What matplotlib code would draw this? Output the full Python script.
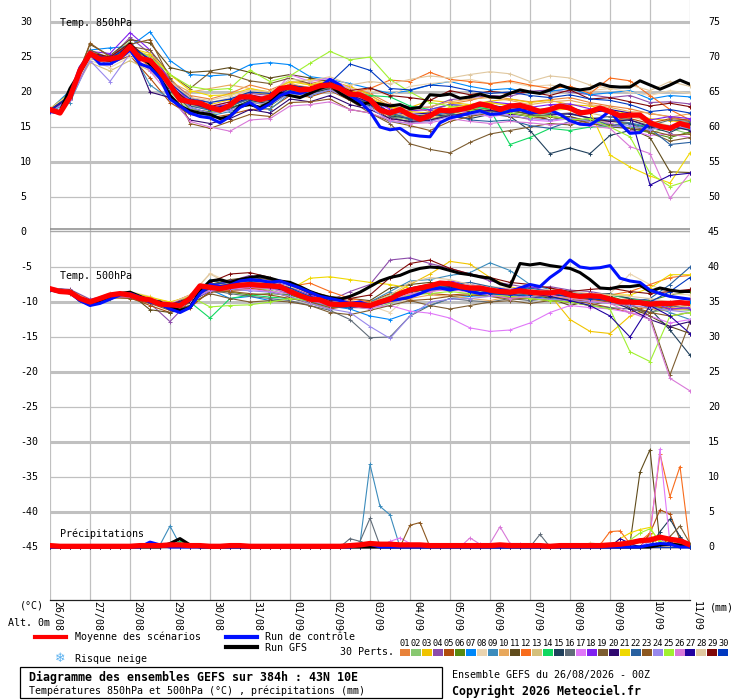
import numpy as np
import matplotlib
matplotlib.use("Agg")
import matplotlib.pyplot as plt
import matplotlib.transforms as mtransforms
from matplotlib.lines import Line2D
from matplotlib.patches import Rectangle

plt.rcParams["font.family"] = ["DejaVu Sans Mono", "DejaVu Sans"]

# ---------------------------------------------------------------- data
date_labels = ["26/08", "27/08", "28/08", "29/08", "30/08", "31/08", "01/09",
               "02/09", "03/09", "04/09", "05/09", "06/09", "07/09", "08/09",
               "09/09", "10/09", "11/09"]

pert_colors = ["#e8823a", "#88c870", "#f0c400", "#8c4caa", "#b04c0c", "#588a10",
               "#0088f8", "#ead4b0", "#3c8cbc", "#e8a85c", "#604c1c", "#f86c1c",
               "#d4c07c", "#10d860", "#20405c", "#606c78", "#e078f8", "#8020f0",
               "#7c5c30", "#300870", "#f0d800", "#2860a0", "#8c5820", "#9888ec",
               "#a0f030", "#d878d8", "#2000a0", "#e0c8a0", "#800808", "#0038c0"]

# 6-hourly series (0..384h)
t850_mean = [17.5, 17.0, 19.3, 23.1, 25.5, 24.7, 24.7, 25.0, 26.5, 24.8,
             24.5, 22.9, 21.0, 18.9, 18.6, 18.4, 17.8, 17.4, 18.1, 19.3,
             19.3, 18.9, 19.3, 20.5, 20.7, 20.3, 20.4, 20.9, 21.0, 20.5,
             19.7, 19.6, 18.9, 17.4, 17.0, 17.5, 16.7, 16.1, 16.6, 17.4,
             17.3, 17.5, 17.8, 18.3, 18.0, 17.5, 18.0, 18.1, 17.7, 17.2,
             17.5, 18.0, 17.7, 17.0, 17.2, 17.7, 17.2, 16.6, 16.7, 16.7,
             15.6, 15.1, 14.8, 15.5, 15.1]
t850_gfs = [17.5, 17.2, 20.5, 22.8, 25.3, 24.8, 24.5, 25.2, 26.8, 25.0,
            24.0, 22.0, 19.5, 18.0, 17.3, 17.0, 16.8, 16.2, 16.5, 18.0,
            18.2, 17.8, 18.5, 19.8, 19.5, 19.2, 19.8, 20.5, 21.0, 19.8,
            19.0, 18.2, 18.5, 18.3, 18.0, 18.2, 17.6, 17.8, 19.6, 19.5,
            19.7, 19.1, 19.3, 19.7, 19.3, 19.2, 19.8, 20.3, 20.0, 19.8,
            20.3, 21.0, 20.5, 20.3, 20.5, 21.2, 20.8, 20.7, 20.7, 21.6,
            21.0, 20.4, 21.0, 21.7, 21.1]
t850_ctrl = [17.2, 17.0, 19.5, 23.5, 25.5, 24.0, 24.0, 24.8, 26.0, 24.0,
             23.5, 22.0, 19.0, 18.0, 17.0, 16.5, 16.3, 15.6, 16.5, 17.8,
             18.5, 17.5, 18.3, 19.5, 20.0, 19.8, 20.3, 20.8, 21.8, 21.0,
             19.5, 18.6, 17.2, 15.0, 14.6, 14.8, 13.9, 13.7, 13.6, 15.6,
             16.3, 16.6, 17.0, 17.3, 16.8, 16.9, 17.3, 17.5, 17.0, 17.1,
             17.4, 16.8, 15.9, 15.4, 15.3, 16.2, 17.3, 15.5, 14.1, 14.2,
             15.6, 15.0, 14.8, 15.4, 15.4]

t500_mean = [-8.1, -8.5, -8.6, -9.5, -10.0, -9.5, -9.0, -8.8, -9.0, -9.5,
             -9.7, -10.3, -10.4, -10.5, -9.5, -7.7, -7.9, -8.1, -7.8, -7.6,
             -7.5, -7.6, -7.7, -7.8, -8.5, -9.1, -9.6, -9.7, -10.3, -10.4,
             -10.3, -10.4, -10.5, -10.0, -9.6, -8.8, -8.3, -8.0, -7.7, -7.3,
             -7.4, -7.8, -8.0, -8.0, -8.3, -8.5, -8.6, -8.4, -8.6, -8.7,
             -8.7, -8.5, -9.0, -9.2, -9.1, -9.2, -9.6, -10.0, -10.0, -10.1,
             -10.3, -10.2, -10.2, -10.1, -10.2]
t500_gfs = [-8.2, -8.6, -8.5, -9.8, -10.3, -9.8, -9.3, -8.8, -8.6, -9.2,
            -9.8, -10.0, -10.8, -11.2, -10.8, -8.5, -7.0, -6.8, -7.2, -6.8,
            -6.5, -6.3, -6.6, -7.0, -7.2, -7.8, -8.5, -9.0, -9.4, -9.6,
            -9.2, -8.6, -7.8, -7.0, -6.5, -6.2, -5.6, -5.2, -5.0, -5.1,
            -5.5, -5.9, -6.1, -6.4, -6.6, -7.4, -7.8, -4.5, -4.7, -4.5,
            -4.8, -5.0, -5.2, -5.8, -6.8, -8.0, -8.1, -7.8, -7.8, -7.6,
            -8.5, -8.0, -8.3, -8.5, -8.5]
t500_ctrl = [-8.3, -8.5, -8.7, -9.8, -10.5, -10.2, -9.6, -9.0, -8.8, -9.3,
             -10.0, -10.3, -11.0, -11.5, -10.8, -8.8, -7.5, -7.8, -7.6, -7.0,
             -6.8, -6.9, -7.2, -7.0, -7.5, -8.0, -8.6, -9.2, -9.5, -9.8,
             -10.2, -10.0, -10.5, -10.2, -9.8, -9.6, -9.3, -8.8, -8.2, -8.0,
             -8.3, -8.0, -8.5, -8.8, -8.6, -8.2, -8.5, -8.0, -7.5, -7.8,
             -6.5, -5.5, -4.0, -5.0, -5.2, -5.1, -4.8, -6.6, -7.0, -7.2,
             -8.3, -8.8, -9.2, -9.4, -9.6]

precip_mean = [0.2, 0.1, 0.1, 0.1, 0.1, 0.1, 0.1, 0.1, 0.1, 0.2,
               0.2, 0.2, 0.3, 0.3, 0.2, 0.2, 0.1, 0.1, 0.2, 0.2,
               0.1, 0.1, 0.1, 0.1, 0.1, 0.1, 0.1, 0.1, 0.1, 0.1,
               0.2, 0.3, 0.5, 0.4, 0.4, 0.3, 0.3, 0.3, 0.2, 0.2,
               0.2, 0.2, 0.2, 0.2, 0.2, 0.3, 0.2, 0.2, 0.2, 0.2,
               0.1, 0.2, 0.2, 0.2, 0.2, 0.2, 0.3, 0.4, 0.6, 0.9,
               1.0, 1.4, 1.1, 0.9, 0.3]
ctrl_rain_step = [10, 11, 31, 32, 60, 61, 62]
ctrl_rain_mm = [0.7, 0.3, 0.3, 0.4, 0.3, 0.5, 0.4]
gfs_rain_step = [12, 13, 14, 61, 62, 63]
gfs_rain_mm = [0.5, 1.2, 0.3, 0.3, 0.4, 0.3]

# rain of the perturbations, only the non-zero 6h steps
rain_member = [26, 2, 2, 14, 14, 9, 9, 9,
               16, 16, 16, 16, 9, 9, 9, 9,
               17, 17, 17, 23, 23,
               26, 26, 26, 26, 26, 26, 16, 28, 28,
               12, 12, 12, 12, 12, 12, 12, 12, 12,
               11, 11, 11, 11, 17, 17, 17,
               5, 5, 5, 5, 15, 15, 15, 19, 19, 19,
               21, 21, 21, 21, 21, 25, 25, 25, 25,
               27, 27, 27, 3, 3, 20, 24, 24]
rain_step = [0, 12, 13, 13, 14, 11, 12, 13,
             30, 31, 32, 33, 31, 32, 33, 34,
             34, 35, 36, 36, 37,
             42, 43, 44, 45, 46, 47, 49, 54, 55,
             55, 56, 57, 58, 59, 60, 61, 62, 63,
             58, 59, 60, 61, 60, 61, 62,
             60, 61, 62, 63, 61, 62, 63, 62, 63, 64,
             57, 58, 59, 60, 61, 58, 59, 60, 61,
             57, 58, 62, 60, 62, 62, 60, 61]
rain_mm = [0.3, 0.4, 0.6, 0.8, 0.3, 0.3, 3.0, 0.3,
           1.2, 0.8, 4.1, 0.2, 0.5, 11.8, 5.8, 4.6,
           0.8, 1.3, 0.5, 3.1, 3.5,
           1.3, 0.4, 0.5, 2.9, 0.5, 0.5, 1.8, 0.6, 0.4,
           0.3, 2.2, 2.3, 0.5, 0.8, 2.0, 13.3, 7.2, 11.5,
           0.5, 10.7, 13.9, 0.5, 1.5, 14.0, 0.5,
           2.0, 5.3, 4.7, 1.0, 2.2, 4.0, 1.5, 1.5, 3.0, 0.5,
           1.2, 2.0, 2.5, 2.8, 0.5, 1.0, 2.0, 2.6, 0.8,
           1.2, 0.5, 0.8, 1.8, 1.2, 0.6, 0.8, 1.2]

# 12-hourly perturbations, T850
t850_p01 = [17.3, 19.8, 25.0, 24.2, 26.0, 24.8, 21.5, 19.5, 19.0, 19.8, 21.0, 20.3, 21.5, 21.2, 21.8, 20.6, 19.8, 18.3, 17.9, 17.2, 18.3, 18.8, 19.5, 19.0, 18.6, 18.9, 19.2, 18.5, 18.0, 17.6, 16.9, 16.5, 15.8]
t850_p02 = [17.4, 19.0, 25.8, 25.0, 27.2, 23.6, 20.0, 17.2, 16.8, 17.5, 18.8, 18.2, 20.2, 19.7, 20.8, 19.0, 18.2, 16.5, 16.0, 16.2, 16.8, 17.5, 17.9, 17.2, 17.0, 16.5, 16.2, 16.0, 15.3, 15.6, 14.2, 14.8, 14.0]
t850_p03 = [17.6, 20.0, 25.2, 24.5, 26.2, 25.2, 22.0, 19.0, 18.2, 18.9, 20.0, 19.6, 21.2, 21.8, 21.5, 20.8, 19.6, 17.8, 17.8, 18.8, 18.5, 18.2, 18.7, 19.0, 18.5, 18.8, 18.2, 18.0, 17.5, 16.8, 16.2, 15.9, 15.6]
t850_p04 = [17.2, 19.5, 25.5, 24.8, 27.8, 25.5, 21.8, 19.2, 18.5, 19.0, 19.8, 19.5, 21.0, 20.6, 21.4, 19.5, 18.6, 18.2, 17.9, 17.8, 18.9, 19.2, 19.5, 19.4, 20.1, 20.3, 20.0, 19.6, 19.2, 19.5, 18.5, 18.6, 18.3]
t850_p05 = [17.5, 18.8, 25.3, 24.0, 25.2, 22.0, 18.5, 16.8, 16.3, 16.8, 17.5, 17.6, 19.5, 19.3, 20.2, 18.8, 18.0, 16.2, 15.8, 15.9, 16.6, 17.2, 17.5, 17.0, 16.6, 16.0, 16.5, 15.8, 16.0, 16.2, 15.5, 16.2, 16.0]
t850_p06 = [17.3, 19.2, 25.6, 24.3, 26.8, 24.0, 20.5, 17.5, 17.2, 17.8, 18.6, 18.0, 20.0, 19.8, 20.5, 19.2, 18.4, 16.8, 16.2, 16.0, 16.9, 17.6, 17.2, 17.3, 16.8, 17.0, 16.4, 15.8, 15.5, 14.8, 14.2, 13.5, 14.3]
t850_p07 = [17.5, 20.2, 26.0, 26.3, 26.5, 28.6, 24.5, 22.5, 22.3, 22.5, 23.9, 24.2, 23.9, 22.2, 21.8, 21.2, 20.5, 19.8, 20.2, 21.0, 21.5, 20.8, 20.3, 20.5, 19.8, 20.1, 20.5, 19.6, 19.9, 20.2, 19.0, 19.5, 19.3]
t850_p08 = [17.6, 19.5, 24.5, 23.5, 25.0, 24.2, 20.8, 18.8, 18.5, 19.2, 20.2, 19.8, 21.5, 21.0, 21.8, 20.5, 20.2, 19.5, 20.8, 21.2, 21.5, 21.8, 21.2, 21.4, 20.8, 21.0, 20.6, 20.2, 20.5, 20.0, 19.5, 20.2, 19.8]
t850_p09 = [17.2, 18.5, 24.8, 24.0, 26.2, 21.0, 19.0, 17.0, 16.6, 17.2, 18.2, 17.5, 19.8, 19.5, 20.3, 19.0, 18.0, 17.2, 16.0, 16.5, 17.3, 17.8, 18.2, 17.6, 17.2, 17.0, 16.8, 16.3, 16.0, 15.6, 15.0, 14.6, 14.9]
t850_p10 = [17.4, 19.6, 25.4, 24.6, 26.4, 25.0, 21.5, 20.0, 20.5, 21.0, 20.5, 19.8, 21.2, 20.6, 21.6, 20.2, 19.5, 18.0, 17.5, 17.9, 18.6, 19.0, 19.2, 18.8, 18.2, 18.6, 18.8, 18.2, 17.8, 17.2, 17.0, 16.4, 16.9]
t850_p11 = [17.5, 19.8, 26.8, 25.2, 27.5, 27.0, 23.5, 22.8, 23.0, 23.5, 22.8, 22.0, 22.5, 22.0, 21.5, 19.0, 18.5, 17.0, 16.5, 16.8, 17.5, 17.2, 17.8, 17.5, 16.8, 16.0, 16.5, 15.5, 15.0, 14.8, 13.5, 8.6, 8.5]
t850_p12 = [17.3, 19.0, 25.6, 24.0, 26.0, 23.5, 20.2, 18.0, 17.6, 18.3, 19.5, 18.6, 20.3, 20.1, 20.6, 19.8, 20.5, 21.7, 21.5, 22.8, 21.8, 21.5, 21.2, 21.6, 21.0, 20.5, 20.8, 19.8, 22.0, 21.6, 19.5, 17.5, 16.0]
t850_p13 = [17.6, 19.4, 24.2, 23.0, 24.5, 23.0, 20.5, 18.2, 17.5, 18.0, 19.0, 18.7, 20.5, 20.0, 20.8, 19.6, 18.6, 17.0, 16.5, 16.2, 17.0, 17.6, 18.4, 18.2, 17.8, 17.3, 17.6, 17.0, 16.4, 16.5, 15.8, 15.2, 15.4]
t850_p14 = [17.4, 19.2, 25.2, 24.4, 26.6, 24.0, 20.6, 18.5, 17.4, 17.9, 19.2, 18.8, 20.5, 20.3, 21.0, 20.0, 19.5, 19.3, 18.0, 17.5, 18.2, 18.0, 17.5, 12.5, 13.5, 14.8, 14.5, 15.0, 15.2, 14.8, 15.5, 15.0, 14.6]
t850_p15 = [17.3, 19.0, 25.0, 24.2, 26.3, 23.8, 20.2, 17.8, 17.0, 17.6, 18.8, 18.3, 20.0, 19.8, 20.5, 19.4, 18.2, 16.6, 16.2, 16.8, 16.5, 16.2, 16.8, 16.5, 14.5, 11.2, 12.0, 11.2, 13.8, 14.5, 15.0, 14.2, 15.6]
t850_p16 = [17.5, 19.3, 25.4, 24.5, 26.0, 24.2, 20.8, 18.3, 17.5, 18.2, 19.0, 18.5, 20.3, 20.1, 20.6, 19.3, 18.5, 16.5, 15.6, 16.0, 16.8, 16.6, 17.2, 17.0, 16.5, 16.8, 17.0, 16.2, 16.5, 16.0, 15.2, 16.0, 15.8]
t850_p17 = [17.4, 19.6, 25.5, 24.8, 26.8, 24.8, 21.2, 18.8, 18.0, 18.6, 19.6, 19.2, 22.5, 21.5, 22.0, 20.4, 19.0, 17.5, 17.2, 17.0, 17.6, 17.0, 16.5, 16.8, 16.0, 15.8, 16.2, 15.5, 15.6, 14.5, 13.8, 14.0, 13.5]
t850_p18 = [17.3, 19.2, 25.8, 25.5, 28.5, 26.0, 21.5, 18.6, 17.8, 18.3, 19.5, 19.0, 20.8, 20.5, 21.2, 20.0, 19.0, 17.6, 17.3, 17.5, 18.2, 18.0, 18.6, 18.3, 17.8, 18.2, 18.3, 17.6, 17.0, 16.8, 16.0, 16.5, 16.2]
t850_p19 = [17.5, 19.5, 26.0, 24.8, 26.5, 26.0, 22.5, 20.5, 22.8, 22.5, 21.6, 21.2, 22.0, 21.2, 20.5, 18.8, 17.0, 15.5, 12.6, 11.8, 11.3, 12.8, 14.0, 14.5, 15.0, 15.5, 15.3, 16.0, 15.8, 15.5, 14.2, 13.0, 13.5]
t850_p20 = [17.3, 19.0, 25.0, 24.0, 27.0, 20.0, 19.2, 16.0, 15.5, 16.2, 17.5, 17.0, 19.0, 18.6, 19.5, 18.2, 17.5, 16.2, 15.8, 16.0, 16.6, 17.0, 17.4, 16.9, 16.5, 16.7, 16.9, 16.3, 15.8, 16.0, 15.0, 15.2, 14.5]
t850_p21 = [17.6, 19.8, 25.2, 24.4, 26.3, 25.5, 22.5, 20.2, 19.5, 19.6, 20.5, 20.0, 21.5, 21.0, 21.6, 20.3, 19.2, 17.8, 17.2, 17.0, 17.8, 18.2, 18.5, 18.0, 17.5, 17.6, 17.5, 17.2, 11.0, 9.3, 8.0, 7.0, 11.3]
t850_p22 = [17.4, 19.4, 25.3, 24.6, 26.2, 24.0, 20.5, 18.0, 17.4, 18.0, 19.0, 18.8, 20.6, 20.4, 21.2, 20.0, 19.2, 17.0, 16.2, 16.6, 17.0, 16.0, 15.8, 16.0, 15.2, 14.8, 15.8, 16.2, 15.2, 15.5, 14.8, 12.5, 12.8]
t850_p23 = [17.5, 19.2, 27.0, 25.0, 26.8, 27.5, 22.0, 15.5, 14.8, 15.8, 16.8, 16.5, 18.5, 18.6, 19.0, 17.5, 17.0, 15.8, 15.2, 14.5, 15.8, 16.5, 17.0, 16.5, 16.2, 16.5, 16.2, 15.5, 15.2, 14.8, 14.5, 13.8, 14.0]
t850_p24 = [17.3, 18.8, 24.5, 21.5, 25.5, 24.0, 20.5, 17.8, 17.0, 17.4, 18.5, 18.2, 19.8, 19.6, 20.3, 19.0, 17.8, 15.8, 15.5, 15.8, 16.5, 16.8, 17.0, 16.6, 16.2, 16.0, 16.3, 15.8, 15.0, 15.2, 14.6, 15.2, 14.8]
t850_p25 = [17.5, 19.6, 25.5, 24.6, 26.4, 25.0, 22.5, 20.8, 20.3, 20.5, 23.1, 21.5, 22.3, 24.1, 25.8, 24.6, 25.0, 21.8, 20.0, 18.5, 18.0, 17.5, 16.8, 17.0, 16.5, 16.6, 16.0, 16.2, 15.0, 13.6, 8.4, 6.5, 7.4]
t850_p26 = [17.4, 19.0, 25.0, 24.0, 25.8, 23.0, 19.5, 15.8, 15.0, 14.4, 16.0, 16.2, 18.0, 18.2, 18.6, 17.5, 17.0, 16.0, 15.5, 15.6, 16.2, 15.8, 15.5, 15.8, 15.6, 15.3, 15.6, 15.2, 14.8, 12.2, 11.2, 4.8, 8.4]
t850_p27 = [17.3, 19.3, 25.6, 24.7, 26.7, 24.6, 21.0, 18.4, 17.6, 18.2, 19.2, 18.9, 20.6, 20.3, 21.0, 19.6, 18.5, 17.2, 16.8, 17.0, 17.5, 17.9, 18.0, 17.8, 17.4, 17.6, 17.8, 17.0, 17.5, 17.0, 6.7, 8.1, 8.4]
t850_p28 = [17.6, 19.7, 24.8, 24.2, 25.5, 24.8, 21.5, 19.2, 18.8, 19.5, 20.3, 20.0, 21.8, 21.6, 22.2, 21.0, 21.5, 21.2, 21.8, 22.3, 22.0, 22.5, 22.9, 22.6, 21.5, 22.3, 22.0, 21.0, 20.5, 21.0, 20.2, 21.5, 20.8]
t850_p29 = [17.5, 19.4, 25.6, 25.0, 27.0, 24.4, 20.8, 18.5, 17.9, 18.6, 19.6, 19.0, 20.9, 20.6, 21.4, 20.2, 20.6, 19.5, 19.2, 18.8, 20.2, 19.6, 20.1, 19.8, 20.0, 19.5, 20.3, 19.0, 19.2, 18.6, 18.0, 18.4, 17.9]
t850_p30 = [17.4, 19.5, 25.5, 24.8, 26.6, 24.7, 21.2, 19.0, 18.5, 19.0, 20.0, 19.8, 21.0, 20.5, 21.3, 24.0, 23.1, 20.5, 20.3, 21.0, 20.8, 20.2, 19.8, 20.0, 19.5, 19.2, 19.6, 19.0, 18.8, 18.2, 17.2, 17.5, 17.0]

# 12-hourly perturbations, T500
t500_p01 = [-8.2, -8.4, -9.8, -9.2, -8.8, -9.5, -10.2, -9.0, -8.5, -7.5, -7.8, -7.2, -8.0, -9.4, -10.0, -9.8, -10.2, -9.0, -8.0, -7.4, -7.0, -7.8, -8.0, -8.5, -8.2, -8.8, -9.2, -9.5, -9.8, -9.5, -10.5, -10.8, -10.5]
t500_p02 = [-8.0, -8.8, -10.3, -9.5, -9.2, -10.0, -11.0, -10.0, -8.2, -8.5, -8.0, -8.3, -9.0, -10.0, -10.8, -10.6, -11.0, -10.2, -9.0, -8.5, -8.0, -8.6, -8.8, -9.0, -9.3, -9.0, -9.6, -10.0, -10.2, -10.8, -11.5, -11.0, -11.2]
t500_p03 = [-8.3, -8.5, -10.0, -8.8, -8.6, -9.5, -10.0, -9.5, -7.6, -7.5, -7.3, -7.6, -8.2, -9.3, -10.2, -10.0, -10.4, -9.2, -7.5, -6.0, -4.2, -4.6, -6.5, -7.8, -8.5, -9.0, -12.5, -14.2, -14.5, -12.0, -11.0, -10.5, -10.2]
t500_p04 = [-8.0, -8.2, -9.6, -9.0, -9.2, -10.2, -12.8, -9.8, -7.5, -7.0, -6.2, -6.8, -7.5, -8.8, -9.8, -8.5, -7.5, -4.0, -3.7, -4.5, -5.2, -6.0, -7.0, -7.5, -8.0, -7.8, -8.3, -8.5, -9.0, -9.5, -9.8, -10.0, -9.5]
t500_p05 = [-8.2, -8.7, -10.2, -9.3, -9.4, -10.5, -11.5, -10.8, -8.5, -8.3, -8.0, -8.5, -9.3, -10.2, -11.0, -10.5, -10.0, -8.8, -8.5, -8.8, -9.0, -8.8, -9.2, -9.4, -9.5, -9.8, -9.6, -10.2, -10.8, -11.5, -10.5, -11.0, -11.0]
t500_p06 = [-8.1, -8.6, -10.1, -9.1, -9.0, -9.8, -10.6, -9.8, -8.0, -8.6, -9.0, -8.8, -9.0, -9.8, -10.5, -10.8, -10.6, -9.5, -8.6, -8.2, -8.0, -8.5, -8.7, -9.2, -8.8, -9.3, -9.8, -9.5, -9.2, -10.0, -9.8, -9.0, -8.5]
t500_p07 = [-8.3, -8.4, -9.9, -9.1, -9.1, -9.8, -10.2, -9.2, -8.2, -9.5, -9.2, -9.8, -9.5, -10.0, -10.6, -11.0, -12.0, -12.5, -11.5, -10.5, -9.5, -9.2, -9.0, -8.8, -9.2, -9.5, -9.3, -9.6, -9.8, -10.2, -10.5, -10.3, -10.0]
t500_p08 = [-8.0, -8.5, -9.8, -8.7, -8.5, -9.2, -10.5, -9.2, -5.9, -7.2, -7.0, -7.4, -8.0, -9.0, -9.5, -10.0, -10.5, -11.5, -9.0, -8.2, -7.6, -7.2, -7.8, -8.0, -8.3, -8.2, -8.6, -8.8, -8.8, -6.0, -7.5, -8.8, -9.0]
t500_p09 = [-8.2, -8.5, -10.0, -9.0, -8.9, -9.6, -10.4, -9.6, -6.8, -7.6, -7.2, -7.5, -8.2, -9.2, -10.0, -10.5, -10.0, -8.5, -7.0, -6.8, -6.2, -5.8, -4.4, -5.5, -7.5, -8.2, -8.5, -9.0, -9.5, -10.2, -10.5, -11.5, -12.5]
t500_p10 = [-8.1, -8.7, -10.2, -9.3, -9.2, -10.0, -10.8, -9.9, -8.2, -8.0, -7.8, -8.0, -8.8, -9.8, -10.6, -10.5, -10.8, -10.0, -9.5, -9.0, -9.2, -9.5, -9.8, -9.2, -9.4, -9.8, -10.0, -9.5, -10.2, -10.5, -11.0, -11.2, -11.0]
t500_p11 = [-8.0, -8.3, -9.8, -9.0, -8.8, -11.1, -11.5, -10.5, -7.5, -6.8, -6.5, -6.8, -8.0, -8.5, -9.2, -9.5, -9.8, -8.0, -7.5, -7.2, -7.8, -8.5, -9.0, -9.2, -8.8, -9.5, -10.5, -9.8, -9.2, -10.8, -12.0, -13.5, -14.5]
t500_p12 = [-8.2, -8.6, -10.0, -9.2, -9.0, -9.6, -10.2, -9.0, -8.0, -8.5, -8.2, -8.0, -7.8, -7.3, -8.5, -9.5, -10.0, -9.8, -8.5, -8.0, -7.5, -7.8, -8.0, -8.2, -9.0, -9.2, -8.8, -9.2, -9.0, -8.5, -7.5, -6.5, -6.2]
t500_p13 = [-8.1, -8.5, -9.9, -9.1, -9.1, -9.8, -10.5, -9.7, -7.5, -7.4, -7.2, -7.8, -8.6, -9.7, -10.4, -10.2, -10.6, -9.8, -8.8, -8.5, -8.0, -8.3, -8.6, -9.0, -8.8, -9.0, -9.3, -9.5, -9.8, -10.0, -10.2, -10.5, -10.8]
t500_p14 = [-8.2, -8.6, -10.1, -9.2, -9.1, -9.9, -10.8, -10.0, -12.3, -9.5, -9.0, -9.3, -9.5, -9.8, -10.5, -10.0, -10.2, -9.0, -8.5, -8.0, -7.8, -8.2, -8.5, -9.0, -9.3, -8.8, -9.2, -9.6, -9.0, -9.5, -10.0, -10.2, -10.5]
t500_p15 = [-8.1, -8.6, -10.0, -9.0, -9.2, -9.8, -10.6, -9.5, -7.8, -7.5, -7.8, -8.0, -8.4, -9.5, -10.2, -10.0, -10.5, -9.6, -8.5, -8.2, -8.0, -8.5, -8.8, -8.5, -9.0, -9.3, -9.5, -9.0, -8.8, -9.5, -11.0, -14.0, -17.6]
t500_p16 = [-8.1, -8.5, -10.0, -9.1, -9.1, -9.7, -10.5, -9.8, -8.3, -8.8, -9.2, -9.5, -9.8, -10.5, -11.2, -12.5, -15.1, -15.0, -12.0, -10.5, -9.5, -9.8, -10.0, -9.5, -9.8, -9.5, -10.0, -10.5, -10.8, -11.0, -11.5, -10.5, -11.0]
t500_p17 = [-8.2, -8.7, -10.2, -9.3, -9.3, -10.0, -10.8, -9.6, -8.5, -8.0, -8.2, -8.5, -8.8, -9.5, -10.5, -10.5, -10.8, -10.5, -11.3, -11.6, -12.3, -13.7, -14.2, -14.0, -13.0, -11.5, -10.5, -10.8, -11.0, -11.5, -12.0, -13.0, -12.5]
t500_p18 = [-8.0, -8.4, -9.8, -8.9, -8.8, -9.5, -10.2, -9.3, -7.8, -7.0, -6.8, -7.0, -7.8, -9.0, -10.0, -10.2, -10.8, -9.5, -8.2, -7.5, -7.0, -7.5, -8.0, -8.2, -7.8, -8.5, -8.8, -9.5, -9.8, -10.5, -10.0, -11.0, -10.8]
t500_p19 = [-8.1, -8.6, -10.0, -9.2, -9.0, -9.8, -10.8, -10.2, -8.8, -9.5, -10.0, -9.8, -10.0, -10.5, -11.5, -11.8, -11.2, -10.5, -9.8, -10.5, -11.0, -10.5, -10.0, -9.8, -10.2, -9.8, -10.0, -10.5, -9.8, -10.2, -12.0, -20.4, -12.8]
t500_p20 = [-8.1, -8.5, -10.3, -9.1, -9.2, -10.0, -11.0, -10.0, -8.4, -8.0, -7.6, -7.8, -8.5, -9.5, -10.5, -10.8, -10.8, -9.8, -8.5, -8.0, -7.8, -8.2, -8.5, -8.8, -9.5, -9.0, -9.2, -9.0, -9.8, -11.0, -12.5, -13.5, -12.8]
t500_p21 = [-8.2, -8.4, -9.8, -8.8, -8.6, -9.3, -10.0, -9.2, -7.8, -7.9, -7.7, -7.9, -8.2, -6.6, -6.4, -6.8, -7.2, -7.5, -8.0, -7.8, -7.5, -7.8, -8.0, -8.5, -9.0, -9.2, -9.5, -9.2, -9.0, -9.0, -8.0, -6.1, -6.1]
t500_p22 = [-8.1, -8.6, -10.2, -9.2, -9.2, -9.9, -10.6, -9.6, -8.1, -8.0, -7.8, -8.0, -8.8, -9.8, -10.5, -10.8, -10.3, -9.5, -8.5, -8.0, -7.6, -7.2, -7.8, -8.3, -8.0, -8.5, -9.0, -9.2, -9.8, -10.0, -9.5, -7.5, -5.0]
t500_p23 = [-8.2, -8.7, -10.0, -9.4, -9.5, -10.2, -11.2, -10.5, -8.6, -8.5, -8.8, -9.0, -9.5, -10.0, -10.8, -10.5, -10.2, -9.2, -9.8, -9.6, -9.2, -9.0, -9.2, -9.6, -9.5, -9.8, -10.0, -9.6, -10.0, -10.5, -11.5, -12.0, -11.5]
t500_p24 = [-8.0, -8.5, -9.9, -9.0, -9.0, -9.7, -10.5, -9.8, -8.4, -8.2, -8.4, -8.6, -9.2, -10.2, -11.0, -11.5, -13.5, -15.2, -12.0, -10.0, -9.6, -9.5, -9.2, -9.0, -9.4, -9.6, -9.8, -10.0, -10.2, -10.5, -10.8, -11.2, -11.5]
t500_p25 = [-8.1, -8.6, -10.0, -9.1, -9.2, -9.9, -10.6, -9.2, -10.7, -10.5, -10.4, -10.0, -9.5, -9.8, -10.2, -10.0, -10.5, -9.8, -9.0, -8.8, -8.5, -8.8, -9.0, -9.2, -9.5, -9.8, -10.0, -10.5, -11.0, -17.1, -18.5, -12.0, -11.5]
t500_p26 = [-8.2, -8.5, -10.1, -9.2, -9.1, -9.8, -10.7, -9.7, -8.3, -8.0, -7.9, -8.1, -8.7, -9.8, -10.5, -10.6, -11.0, -9.8, -8.8, -8.5, -8.2, -8.6, -9.0, -9.5, -9.2, -9.0, -9.5, -9.8, -10.2, -11.5, -12.5, -20.9, -22.7]
t500_p27 = [-8.1, -8.6, -10.0, -9.0, -9.1, -9.8, -10.4, -9.5, -8.0, -7.8, -7.5, -7.8, -8.5, -9.5, -10.2, -10.5, -10.6, -9.5, -8.0, -7.5, -7.2, -7.8, -8.2, -8.6, -8.8, -9.2, -9.8, -10.5, -12.0, -15.0, -10.5, -12.0, -14.5]
t500_p28 = [-8.0, -8.4, -9.8, -8.8, -8.7, -9.5, -10.2, -9.0, -6.0, -7.5, -7.0, -7.2, -7.8, -8.8, -9.8, -10.0, -10.2, -9.0, -7.2, -6.5, -6.8, -7.5, -8.0, -8.2, -8.5, -8.2, -8.5, -8.8, -9.0, -9.2, -9.5, -10.0, -10.5]
t500_p29 = [-8.2, -8.6, -10.1, -9.1, -9.0, -9.7, -10.4, -9.4, -7.2, -6.0, -5.8, -6.5, -7.5, -8.8, -9.8, -9.5, -9.0, -6.5, -4.5, -4.0, -5.2, -6.0, -6.5, -7.2, -7.5, -8.0, -8.5, -8.2, -8.0, -8.5, -8.8, -8.5, -8.2]
t500_p30 = [-8.1, -8.5, -10.2, -9.0, -9.0, -9.7, -10.5, -9.5, -7.5, -7.2, -7.0, -7.2, -8.0, -9.2, -10.0, -10.2, -10.5, -9.5, -8.0, -7.8, -8.0, -8.5, -8.8, -9.0, -9.0, -8.8, -9.2, -9.5, -9.8, -10.2, -10.0, -8.5, -6.5]

t850_perts = [t850_p01, t850_p02, t850_p03, t850_p04, t850_p05, t850_p06,
              t850_p07, t850_p08, t850_p09, t850_p10, t850_p11, t850_p12,
              t850_p13, t850_p14, t850_p15, t850_p16, t850_p17, t850_p18,
              t850_p19, t850_p20, t850_p21, t850_p22, t850_p23, t850_p24,
              t850_p25, t850_p26, t850_p27, t850_p28, t850_p29, t850_p30]
t500_perts = [t500_p01, t500_p02, t500_p03, t500_p04, t500_p05, t500_p06,
              t500_p07, t500_p08, t500_p09, t500_p10, t500_p11, t500_p12,
              t500_p13, t500_p14, t500_p15, t500_p16, t500_p17, t500_p18,
              t500_p19, t500_p20, t500_p21, t500_p22, t500_p23, t500_p24,
              t500_p25, t500_p26, t500_p27, t500_p28, t500_p29, t500_p30]

# ---------------------------------------------------------------- layout
W, H = 740, 700
RAIN_BASE = -45          # precipitation is drawn on the -45 line, 1 mm = 1 unit
RIGHT_SHIFT = 45         # right axis labels = left value + 45


def fx(px):
    return px / W


def fy(py):
    return 1 - py / H


x6 = np.arange(65) * 0.25     # days since 26/08 00Z
x12 = np.arange(33) * 0.5

rain = np.zeros((30, 65))
for m, s, v in zip(rain_member, rain_step, rain_mm):
    rain[m - 1, s] = v
ctrl_rain = np.zeros(65)
ctrl_rain[ctrl_rain_step] = ctrl_rain_mm
gfs_rain = np.zeros(65)
gfs_rain[gfs_rain_step] = gfs_rain_mm

fig = plt.figure(figsize=(W / 100, H / 100), dpi=100)
fig.patch.set_facecolor("white")

# plot area: x 50..690 px, y 0..600 px ; value v sits at row 232 - 7 v
ax = fig.add_axes([fx(50), fy(600), 640 / W, 600 / H])
ax.set_xlim(0, 16)
ax.set_ylim((232 - 600) / 7, 232 / 7)
ax.axis("off")

grid = "#c0c0c0"
for d in range(17):
    ax.axvline(d, color=grid, lw=0.9, zorder=0)
for v in range(-45, 31, 5):
    if v == 0:
        ax.axhline(0.4, color="#8a8a8a", lw=1.1, zorder=0)
        ax.axhline(0.12, color="#a8a8a8", lw=1.0, zorder=0)
    elif v % 10 == 0:
        ax.axhline(v, color=grid, lw=2.2, zorder=0)
    else:
        ax.axhline(v, color=grid, lw=0.9, zorder=0)
fig.add_artist(Line2D([fx(50), fx(690)], [fy(600), fy(600)], color="#202020",
                      lw=0.9, transform=fig.transFigure))

# perturbations
for k in range(30):
    kw = dict(color=pert_colors[k], lw=0.8, marker="+", ms=2.6, mew=0.7,
              zorder=2)
    ax.plot(x12, t850_perts[k], **kw)
    ax.plot(x12, t500_perts[k], **kw)
    ax.plot(x6, RAIN_BASE + rain[k], **kw)

# GFS, control, mean
ax.plot(x6, t850_gfs, color="black", lw=2.2, zorder=3)
ax.plot(x6, t500_gfs, color="black", lw=2.2, zorder=3)
ax.plot(x6, RAIN_BASE + gfs_rain, color="black", lw=2.2, zorder=3)
ax.plot(x6, t850_ctrl, color="#0010ff", lw=2.2, zorder=4)
ax.plot(x6, t500_ctrl, color="#0010ff", lw=2.2, zorder=4)
ax.plot(x6, RAIN_BASE + ctrl_rain, color="#0010ff", lw=2.2, zorder=4)
ax.plot(x6, t850_mean, color="#ff0000", lw=3.8, zorder=5)
ax.plot(x6, t500_mean, color="#ff0000", lw=3.8, zorder=5)
ax.plot(x6, RAIN_BASE + np.array(precip_mean), color="#ff0000", lw=3.8,
        zorder=5)

# axis labels
fs = 7.2
trans_y = mtransforms.blended_transform_factory(fig.transFigure, ax.transData)
for v in range(30, -46, -5):
    ax.text(fx(20), v, str(v), transform=trans_y, fontsize=fs,
            ha="left", va="center")
    ax.text(fx(708), v, str(v + RIGHT_SHIFT), transform=trans_y, fontsize=fs,
            ha="left", va="center")

trans_x = mtransforms.blended_transform_factory(ax.transData, fig.transFigure)
for d, lab in enumerate(date_labels):
    ax.text(d + 0.05, fy(601), lab, transform=trans_x, rotation=270,
            fontsize=fs, ha="left", va="top")

fig.text(fx(60), fy(23), "Temp. 850hPa", fontsize=fs, va="center")
fig.text(fx(60), fy(276), "Temp. 500hPa", fontsize=fs, va="center")
fig.text(fx(60), fy(534), "Précipitations", fontsize=fs, va="center")

fig.text(fx(20), fy(606), "(°C)", fontsize=fs, va="center")
fig.text(fx(710), fy(607), "(mm)", fontsize=fs, va="center")
fig.text(fx(8), fy(623), "Alt. 0m", fontsize=fs, va="center")

# legend
fig.add_artist(Line2D([fx(35), fx(66)], [fy(636.5), fy(636.5)], color="#ff0000",
                      lw=3.0, transform=fig.transFigure))
fig.text(fx(75), fy(637), "Moyenne des scénarios", fontsize=fs, va="center")
fig.add_artist(Line2D([fx(226), fx(257)], [fy(637), fy(637)], color="#0010ff",
                      lw=3.0, transform=fig.transFigure))
fig.text(fx(265), fy(637), "Run de contrôle", fontsize=fs, va="center")
fig.add_artist(Line2D([fx(226), fx(257)], [fy(647), fy(647)], color="black",
                      lw=3.0, transform=fig.transFigure))
fig.text(fx(265), fy(648), "Run GFS", fontsize=fs, va="center")
fig.text(fx(55), fy(658), "\u2744", fontsize=9, color="#58b0f0", va="center",
         family="DejaVu Sans")
fig.text(fx(75), fy(659), "Risque neige", fontsize=fs, va="center")
fig.text(fx(340), fy(652), "30 Perts.", fontsize=fs, va="center")

for k, col in enumerate(pert_colors):
    x0 = 400 + k * 10.98
    fig.add_artist(Rectangle((fx(x0), fy(656)), 10 / W, 7 / H, facecolor=col,
                             edgecolor="none", transform=fig.transFigure))
    fig.text(fx(x0 + 5), fy(643), "%02d" % (k + 1), fontsize=6.2,
             ha="center", va="center")

# footer
fig.add_artist(Rectangle((fx(20), fy(698)), 422 / W, 31 / H, fill=False,
                         edgecolor="black", lw=0.9, transform=fig.transFigure))
fig.text(fx(29), fy(677), "Diagramme des ensembles GEFS sur 384h : 43N 10E",
         fontsize=8.4, fontweight="bold", va="center")
fig.text(fx(29), fy(691),
         "Températures 850hPa et 500hPa (°C) , précipitations (mm)",
         fontsize=fs, va="center")
fig.text(fx(452), fy(675), "Ensemble GEFS du 26/08/2026 - 00Z",
         fontsize=fs, va="center")
fig.text(fx(452), fy(691), "Copyright 2026 Meteociel.fr",
         fontsize=8.4, fontweight="bold", va="center")

fig.savefig("out.png", dpi=100, facecolor="white")
